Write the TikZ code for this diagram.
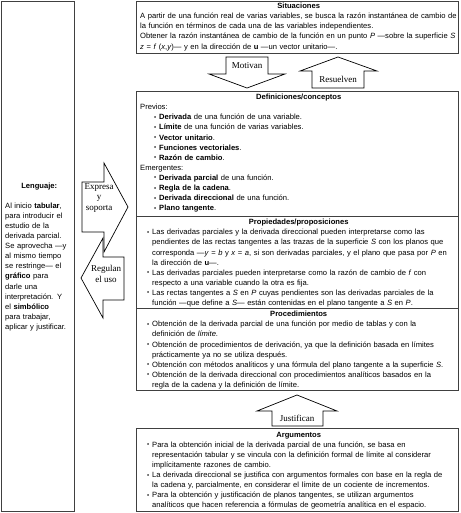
\documentclass[tikz,border=0pt]{standalone}
\usepackage{fontspec}
\setmainfont{Liberation Sans}
\newfontfamily\serifarrow{Liberation Serif}
\usepackage{graphicx}
\newcommand{\bul}{\raisebox{0.6pt}{\scalebox{0.8}{\textbullet}}}
\newcommand{\bitem}[2]{\par{\leftskip=#1\noindent\llap{\bul\hspace{3pt}}#2\par}}
\newcommand{\ttl}[1]{\noindent\makebox[317pt]{\bfseries\strut #1}\par}
\begin{document}
\begin{tikzpicture}[x=1pt,y=-1pt,
  frame/.style={draw=black!75, line width=0.8pt},
  blockarrow/.style={draw=black, line width=0.7pt, fill=white, line join=miter},
  txt/.style={anchor=north west, inner sep=0pt, text width=330pt, font=\fontsize{7.6}{10.1}\selectfont\raggedright},
  lbl/.style={inner sep=0pt, align=center, font=\serifarrow\fontsize{9}{10.5}\selectfont}
]
\useasboundingbox (0,0) rectangle (460,513);
% frames
\draw[frame] (1.5,1.5) rectangle (74,511.5);
\draw[frame] (136,1.5) rectangle (458,53);
\draw[frame] (136,91) rectangle (458,390.5);
\draw[frame] (136,216) -- (458,216);
\draw[frame] (136,308) -- (458,308);
\draw[frame] (136,428.5) rectangle (458,511.5);
% block arrows
\draw[blockarrow] (226,57) -- (268,57) -- (268,74) -- (285,74) -- (247,88) -- (209,74) -- (226,74) -- cycle;
\draw[blockarrow] (338,57) -- (377,71) -- (364,71) -- (364,88) -- (312,88) -- (312,71) -- (300,71) -- cycle;
\draw[blockarrow] (297,395) -- (337,411) -- (323,411) -- (323,426) -- (272,426) -- (272,411) -- (257,411) -- cycle;
\draw[blockarrow] (82,182) -- (104,182) -- (104,163) -- (128,207) -- (104,252) -- (104,232) -- (82,232) -- cycle;
\draw[blockarrow] (81,278) -- (103,238) -- (103,257) -- (124,257) -- (124,300) -- (103,300) -- (103,318) -- cycle;
\node[lbl] (motivan) at (247,65.5) {Motivan};
\node[lbl] (resuelven) at (338,79.5) {Resuelven};
\node[lbl] (justifican) at (297,418.5) {Justifican};
\node[lbl] (expresa) at (99,198) {Expresa\\y\\soporta};
\node[lbl] (regulan) at (106,274) {Regulan\\el uso};
% left box
\node[txt, text width=68pt] (leng) at (5,180.93) {%
{\centering\bfseries\strut Lenguaje:\par}\vspace{9.9pt}
Al inicio \textbf{tabular},\\
para introducir el\\
estudio de la\\
derivada parcial.\\
Se aprovecha —y\\
al mismo tiempo\\
se restringe— el\\
\textbf{gráfico} para\\
darle una\\
interpretación. Y\\
el \textbf{simbólico}\\
para trabajar,\\
aplicar y justificar.};
% situaciones
\node[txt] (sit) at (140,1.43) {%
\ttl{Situaciones}
\strut A partir de una función real de varias variables, se busca la razón instantánea de cambio de\\
la función en términos de cada una de las variables independientes.\\
Obtener la razón instantánea de cambio de la función en un punto \textit{P} —sobre la superficie \textit{S}\\
\textit{z} = \textit{f} (\textit{x},\textit{y})— y en la dirección de \textbf{u} —un vector unitario—.};
% definiciones
\node[txt] (defs) at (140,92.43) {%
\ttl{Definiciones/conceptos}
Previos:\par
\bitem{19pt}{\textbf{Derivada} de una función de una variable.}
\bitem{19pt}{\textbf{Límite} de una función de varias variables.}
\bitem{19pt}{\textbf{Vector unitario}.}
\bitem{19pt}{\textbf{Funciones vectoriales}.}
\bitem{19pt}{\textbf{Razón de cambio}.}
Emergentes:\par
\bitem{19pt}{\textbf{Derivada parcial} de una función.}
\bitem{19pt}{\textbf{Regla de la cadena}.}
\bitem{19pt}{\textbf{Derivada direccional} de una función.}
\bitem{19pt}{\textbf{Plano tangente}.}};
% propiedades
\node[txt] (props) at (140,217.43) {%
\ttl{Propiedades/proposiciones}
\bitem{12pt}{Las derivadas parciales y la derivada direccional pueden interpretarse como las\\
pendientes de las rectas tangentes a las trazas de la superficie \textit{S} con los planos que\\
corresponda —\textit{y} = \textit{b} y \textit{x} = \textit{a}, si son derivadas parciales, y el plano que pasa por \textit{P} en\\
la dirección de \textbf{u}—.}
\bitem{12pt}{Las derivadas parciales pueden interpretarse como la razón de cambio de \textit{f} con\\
respecto a una variable cuando la otra es fija.}
\bitem{12pt}{Las rectas tangentes a \textit{S} en \textit{P} cuyas pendientes son las derivadas parciales de la\\
función —que define a \textit{S}— están contenidas en el plano tangente a \textit{S} en \textit{P}.}};
% procedimientos
\node[txt] (procs) at (140,309.43) {%
\ttl{Procedimientos}
\bitem{12pt}{Obtención de la derivada parcial de una función por medio de tablas y con la\\
definición de \textit{límite}.}
\bitem{12pt}{Obtención de procedimientos de derivación, ya que la definición basada en límites\\
prácticamente ya no se utiliza después.}
\bitem{12pt}{Obtención con métodos analíticos y una fórmula del plano tangente a la superficie \textit{S}.}
\bitem{12pt}{Obtención de la derivada direccional con procedimientos analíticos basados en la\\
regla de la cadena y la definición de límite.}};
% argumentos
\node[txt] (args) at (140,429.93) {%
\ttl{Argumentos}
\bitem{12pt}{Para la obtención inicial de la derivada parcial de una función, se basa en\\
representación tabular y se vincula con la definición formal de límite al considerar\\
implícitamente razones de cambio.}
\bitem{12pt}{La derivada direccional se justifica con argumentos formales con base en la regla de\\
la cadena y, parcialmente, en considerar el límite de un cociente de incrementos.}
\bitem{12pt}{Para la obtención y justificación de planos tangentes, se utilizan argumentos\\
analíticos que hacen referencia a fórmulas de geometría analítica en el espacio.}};
\end{tikzpicture}
\end{document}
